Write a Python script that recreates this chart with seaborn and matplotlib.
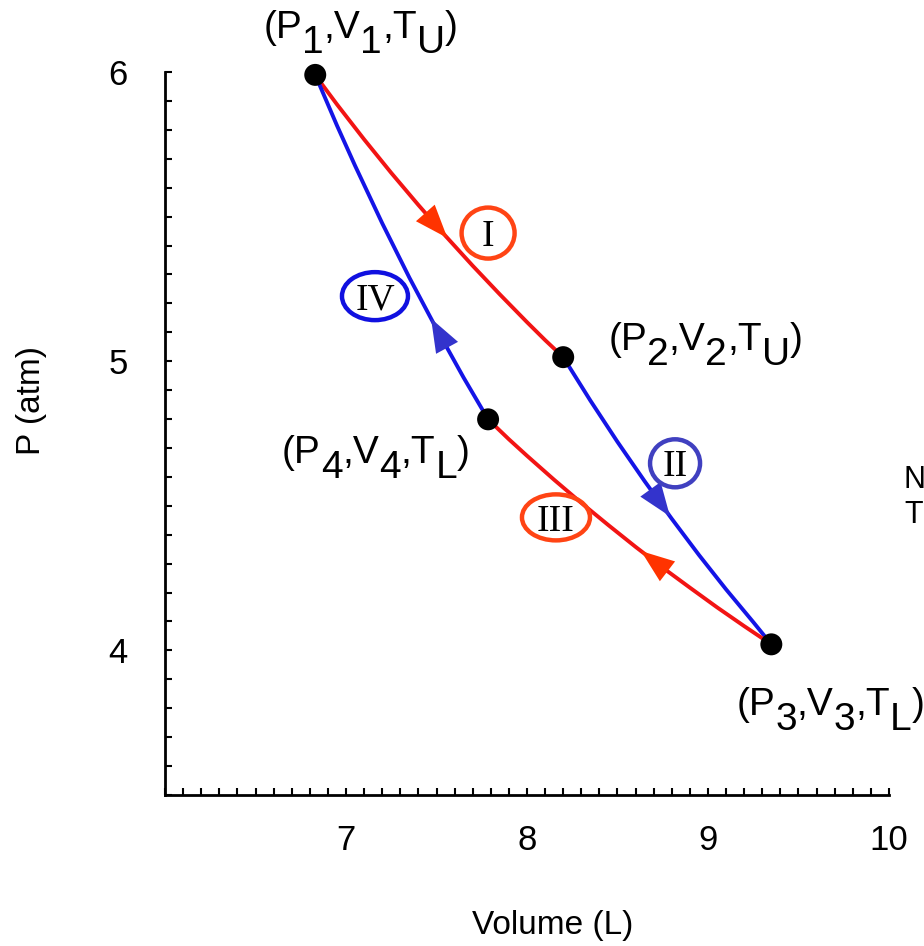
import numpy as np
import pandas as pd
import matplotlib.pyplot as plt
import seaborn as sns
from matplotlib.patches import Ellipse
from matplotlib.ticker import MultipleLocator
from matplotlib.transforms import ScaledTranslation

# corner states of the cycle (V in L, P in atm)
state_V = [6.83, 8.20, 9.35, 7.785]
state_P = [5.99, 5.014, 4.021, 4.799]
state_num = ["1", "2", "3", "4"]
state_temp = ["U", "U", "L", "L"]

# the four legs
V_I = [6.83, 6.95, 7.10, 7.25, 7.40, 7.55, 7.70, 7.85, 8.00, 8.10, 8.20]
P_I = [5.989, 5.888, 5.767, 5.651, 5.540, 5.433, 5.330, 5.231, 5.135, 5.073, 5.014]
V_II = [8.20, 8.35, 8.50, 8.65, 8.80, 8.95, 9.10, 9.25, 9.35]
P_II = [5.014, 4.864, 4.721, 4.585, 4.455, 4.330, 4.211, 4.098, 4.021]
V_III = [9.35, 9.20, 9.05, 8.90, 8.75, 8.60, 8.45, 8.30, 8.15, 8.00, 7.90, 7.785]
P_III = [4.021, 4.084, 4.149, 4.217, 4.286, 4.358, 4.433, 4.510, 4.590, 4.673, 4.730, 4.799]
V_IV = [7.785, 7.65, 7.50, 7.35, 7.20, 7.05, 6.95, 6.83]
P_IV = [4.799, 4.943, 5.112, 5.289, 5.477, 5.676, 5.815, 5.99]

stages = ["I", "II", "III", "IV"]
arrow_V = [7.56, 8.79, 8.63, 7.47]

curves = pd.concat([
    pd.DataFrame({"V": V_I, "P": P_I, "stage": "I"}),
    pd.DataFrame({"V": V_II, "P": P_II, "stage": "II"}),
    pd.DataFrame({"V": V_III, "P": P_III, "stage": "III"}),
    pd.DataFrame({"V": V_IV, "P": P_IV, "stage": "IV"}),
], ignore_index=True)

line_col = {"I": "#f21414", "II": "#1414e6", "III": "#f21414", "IV": "#1414e6"}
head_col = {"I": "#ff3300", "II": "#3333cc", "III": "#ff3300", "IV": "#3333cc"}
ring_col = {"I": "#ff4414", "II": "#4040c0", "III": "#ff4414", "IV": "#1010e0"}
# label centre (data coords) and ring size (inches)
ring_pos = {"I": (7.785, 5.443), "II": (8.818, 4.647), "III": (8.160, 4.460), "IV": (7.160, 5.225)}
ring_size = {"I": (0.53, 0.51), "II": (0.50, 0.48), "III": (0.68, 0.46), "IV": (0.66, 0.48)}
# offsets (points) of the state labels from their dots
label_off = [(-37.4, 26.6), (32.4, 5.0), (-25.2, -51.1), (-148.3, -31.7)]

sns.set_style("white")
plt.rcParams["font.family"] = ["Liberation Sans", "DejaVu Sans"]
plt.rcParams["text.color"] = "black"
plt.rcParams["axes.labelcolor"] = "black"
plt.rcParams["xtick.color"] = "black"
plt.rcParams["ytick.color"] = "black"

fig = plt.figure(figsize=(9.24, 9.46), dpi=100)
ax = fig.add_axes([0.1786, 0.1596, 0.7835, 0.7643])

sns.lineplot(data=curves, x="V", y="P", hue="stage", palette=line_col, sort=False,
             estimator=None, legend=False, lw=2.8, ax=ax)
for ln in ax.lines:
    ln.set_clip_on(False)

# direction arrows sitting on the curves
for st, av in zip(stages, arrow_V):
    sub = curves[curves.stage == st]
    vs, ps = sub.V.to_numpy(), sub.P.to_numpy()
    order = np.argsort(vs)
    d = np.sign(vs[-1] - vs[0])
    tip = (av, np.interp(av, vs[order], ps[order]))
    tail_v = av - d * 0.08
    tail = (tail_v, np.interp(tail_v, vs[order], ps[order]))
    ax.annotate("", xy=tip, xytext=tail,
                arrowprops=dict(arrowstyle="-|>,head_length=2.4,head_width=0.9", mutation_scale=10,
                                facecolor=head_col[st], edgecolor="none", lw=0, shrinkA=0, shrinkB=0))

# ringed roman numerals
for st in stages:
    v, p = ring_pos[st]
    w, h = ring_size[st]
    tr = fig.dpi_scale_trans + ScaledTranslation(v, p, ax.transData)
    ax.add_patch(Ellipse((0, 0), w, h, transform=tr, fill=False, ec=ring_col[st], lw=3.2, zorder=4))
    ax.annotate(st, xy=(v, p), xytext=(0, -9.5), textcoords="offset points", ha="center",
                va="baseline", fontsize=27, family=["Liberation Serif", "DejaVu Serif"], zorder=4)

sns.scatterplot(x=state_V, y=state_P, color="black", s=250, edgecolor="none", zorder=5, ax=ax)
for coll in ax.collections:
    coll.set_clip_on(False)

SUB = 10.8


def state_label(v, p, n, t, off):
    pieces = [("(P", False), (n, True), (",V", False), (n, True), (",T", False), (t, True), (")", False)]
    prev = ax.annotate(pieces[0][0], xy=(v, p), xytext=off, textcoords="offset points",
                       ha="left", va="baseline", fontsize=28, annotation_clip=False)
    was_sub = False
    for s, is_sub in pieces[1:]:
        shift = 0
        if is_sub and not was_sub:
            shift = -SUB
        elif was_sub and not is_sub:
            shift = SUB
        prev = ax.annotate(s, xy=(1, 0), xycoords=prev, xytext=(0, shift), textcoords="offset points",
                           ha="left", va="bottom", fontsize=28, annotation_clip=False)
        was_sub = is_sub


for v, p, n, t, off in zip(state_V, state_P, state_num, state_temp, label_off):
    state_label(v, p, n, t, off)

ax.set_xlim(6.0, 10.0)
ax.set_ylim(3.5, 6.0)
ax.set_xticks([7, 8, 9, 10])
ax.set_yticks([4, 5, 6])
ax.xaxis.set_minor_locator(MultipleLocator(0.1))
ax.yaxis.set_minor_locator(MultipleLocator(0.1))
ax.tick_params(which="both", direction="in", length=5, width=1.5, color="black",
               bottom=True, left=True, labelsize=25)
ax.tick_params(axis="x", which="major", pad=21)
ax.tick_params(axis="y", which="major", pad=27)
sns.despine(ax=ax)
for sp in ["left", "bottom"]:
    ax.spines[sp].set_linewidth(2)
    ax.spines[sp].set_color("black")

ax.set_xlabel("Volume (L)", fontsize=24)
ax.set_ylabel("P (atm)", fontsize=24)
ax.xaxis.set_label_coords(0.536, -0.180)
ax.xaxis.label.set_va("center")
ax.yaxis.set_label_coords(-0.184, 0.546)
ax.yaxis.label.set_va("center")

# text running off the right edge
fig.text(903 / 924, 1 - 488 / 946, "N", fontsize=22, va="baseline")
fig.text(904 / 924, 1 - 523 / 946, "T", fontsize=22, va="baseline")

plt.savefig("out.png", dpi=100)
